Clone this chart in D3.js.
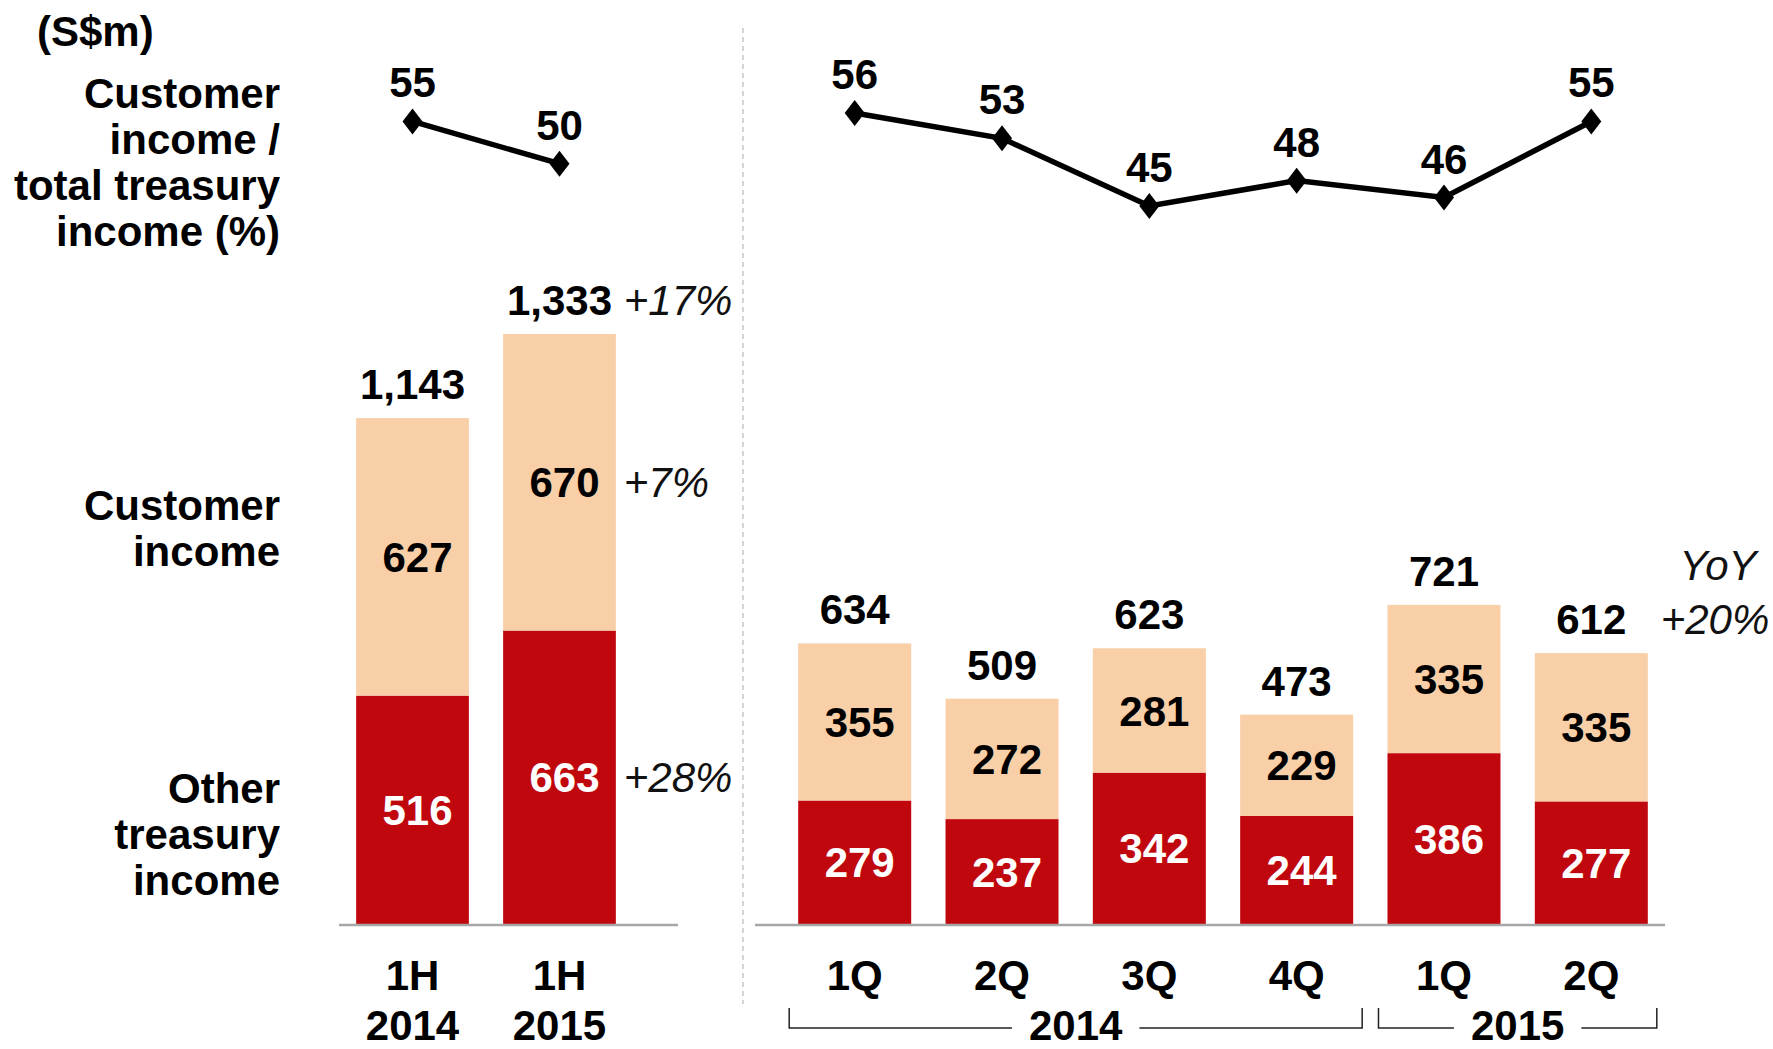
<!DOCTYPE html>
<html>
<head>
<meta charset="utf-8">
<script src="https://cdn.jsdelivr.net/npm/d3@7"></script>
<style>
  body { margin: 0; background: #fff; }
  svg { font-family: "Liberation Sans", Arial, sans-serif; }
</style>
</head>
<body>
<div id="chart"></div>
<script>
// Half-year data
const halfCats = ["1H 2014", "1H 2015"];
const halfOther = [516, 663];
const halfCustomer = [627, 670];
const halfTotal = [1143, 1333];
const halfRatio = [55, 50];
const halfGrowth = ["+17%", "+7%", "+28%"]; // total, customer, other

// Quarterly data
const qtrKeys = ["1Q 2014", "2Q 2014", "3Q 2014", "4Q 2014", "1Q 2015", "2Q 2015"];
const qtrLabels = ["1Q", "2Q", "3Q", "4Q", "1Q", "2Q"];
const qtrOther = [279, 237, 342, 244, 386, 277];
const qtrCustomer = [355, 272, 281, 229, 335, 335];
const qtrTotal = [634, 509, 623, 473, 721, 612];
const qtrRatio = [56, 53, 45, 48, 46, 55];
const yearGroups = [
  { year: "2014", from: "1Q 2014", to: "4Q 2014" },
  { year: "2015", from: "1Q 2015", to: "2Q 2015" }
];
const yoyText = ["YoY", "+20%"];

const RED = "#c0070d";
const PEACH = "#f9cfa7";
const FS = 42;

const width = 1773, height = 1049;
const svg = d3.select("#chart").append("svg")
  .attr("width", width)
  .attr("height", height);

const y = d3.scaleLinear().domain([0, 1333]).range([924, 334]);
const r = d3.scaleLinear().domain([45, 56]).range([206, 113]);

const xL = d3.scaleBand().domain(halfCats).range([339, 633])
  .paddingInner(0.233).paddingOuter(0.1167);
const xR = d3.scaleBand().domain(qtrKeys).range([781, 1665])
  .paddingInner(0.233).paddingOuter(0.1167);

const fmt = d3.format(",");

// divider between the two panels
svg.append("line")
  .attr("x1", 743).attr("x2", 743)
  .attr("y1", 28).attr("y2", 1004)
  .attr("stroke", "#c8c8c8")
  .attr("stroke-width", 1.5)
  .attr("stroke-dasharray", "5,4");

function drawPanel(x, keys, other, customer, total, ratio) {
  const g = svg.append("g");
  const bw = x.bandwidth();

  keys.forEach((k, i) => {
    const x0 = x(k);
    // other treasury income (bottom)
    g.append("rect")
      .attr("x", x0).attr("y", y(other[i]))
      .attr("width", bw).attr("height", y(0) - y(other[i]))
      .attr("fill", RED);
    // customer income (top)
    g.append("rect")
      .attr("x", x0).attr("y", y(other[i] + customer[i]))
      .attr("width", bw).attr("height", y(other[i]) - y(other[i] + customer[i]))
      .attr("fill", PEACH);

    g.append("text")
      .attr("x", x0 + bw / 2 + 5)
      .attr("y", (y(0) + y(other[i])) / 2)
      .attr("dy", "0.36em")
      .attr("text-anchor", "middle")
      .attr("font-size", FS).attr("font-weight", "bold")
      .attr("fill", "#fff")
      .text(other[i]);
    g.append("text")
      .attr("x", x0 + bw / 2 + 5)
      .attr("y", (y(other[i]) + y(other[i] + customer[i])) / 2)
      .attr("dy", "0.36em")
      .attr("text-anchor", "middle")
      .attr("font-size", FS).attr("font-weight", "bold")
      .attr("fill", "#000")
      .text(customer[i]);
    g.append("text")
      .attr("x", x0 + bw / 2)
      .attr("y", y(total[i]) - 19)
      .attr("text-anchor", "middle")
      .attr("font-size", FS).attr("font-weight", "bold")
      .attr("fill", "#000")
      .text(fmt(total[i]));
  });

  // ratio line
  const pts = keys.map((k, i) => [x(k) + bw / 2, r(ratio[i])]);
  g.append("path")
    .attr("d", d3.line()(pts))
    .attr("fill", "none")
    .attr("stroke", "#000")
    .attr("stroke-width", 5.5);
  g.selectAll(null).data(pts).enter().append("path")
    .attr("transform", d => `translate(${d[0]},${d[1]})`)
    .attr("d", "M0,-13L10,0L0,13L-10,0Z")
    .attr("fill", "#000");
  g.selectAll(null).data(pts).enter().append("text")
    .attr("x", d => d[0])
    .attr("y", d => d[1] - 24)
    .attr("text-anchor", "middle")
    .attr("font-size", FS).attr("font-weight", "bold")
    .text((d, i) => ratio[i]);
  return g;
}

drawPanel(xL, halfCats, halfOther, halfCustomer, halfTotal, halfRatio);
drawPanel(xR, qtrKeys, qtrOther, qtrCustomer, qtrTotal, qtrRatio);

// baselines
svg.append("line").attr("x1", 339).attr("x2", 678)
  .attr("y1", y(0) + 1).attr("y2", y(0) + 1)
  .attr("stroke", "#a6a6a6").attr("stroke-width", 2.5);
svg.append("line").attr("x1", 755).attr("x2", 1665)
  .attr("y1", y(0) + 1).attr("y2", y(0) + 1)
  .attr("stroke", "#a6a6a6").attr("stroke-width", 2.5);

// half-year category labels (two lines)
halfCats.forEach(c => {
  const parts = c.split(" ");
  const t = svg.append("text")
    .attr("text-anchor", "middle")
    .attr("font-size", FS).attr("font-weight", "bold");
  parts.forEach((p, j) => {
    t.append("tspan")
      .attr("x", xL(c) + xL.bandwidth() / 2)
      .attr("y", 975 + j * 50)
      .attr("dy", "0.36em")
      .text(p);
  });
});

// quarter labels via axis
const axR = svg.append("g")
  .attr("transform", `translate(0,${y(0)})`)
  .call(d3.axisBottom(xR).tickSize(0).tickPadding(36.5)
    .tickFormat((d, i) => qtrLabels[i]));
axR.select(".domain").remove();
axR.selectAll("text")
  .attr("font-size", FS).attr("font-weight", "bold")
  .attr("font-family", "'Liberation Sans', Arial, sans-serif")
  .attr("fill", "#000");

// year brackets
yearGroups.forEach(gp => {
  const xa = xR(gp.from) - 9;
  const xb = xR(gp.to) + xR.bandwidth() + 9;
  const xm = (xa + xb) / 2;
  const yl = 1028, yt = 1008;
  const label = svg.append("text")
    .attr("x", xm).attr("y", 1025).attr("dy", "0.36em")
    .attr("text-anchor", "middle")
    .attr("font-size", FS).attr("font-weight", "bold")
    .text(gp.year);
  const half = label.node().getComputedTextLength() / 2 + 17;
  svg.append("path")
    .attr("d", `M${xa},${yt}V${yl}H${xm - half}M${xm + half},${yl}H${xb}V${yt}`)
    .attr("fill", "none")
    .attr("stroke", "#222")
    .attr("stroke-width", 1.5);
});

// growth annotations (left panel)
const gx = xL(halfCats[1]) + xL.bandwidth() + 8;
const growthY = [
  y(halfTotal[1]) - 19,
  (y(halfOther[1]) + y(halfTotal[1])) / 2,
  (y(0) + y(halfOther[1])) / 2
];
halfGrowth.forEach((s, i) => {
  svg.append("text")
    .attr("x", gx)
    .attr("y", growthY[i])
    .attr("dy", i === 0 ? 0 : "0.36em")
    .attr("font-size", FS).attr("font-style", "italic")
    .attr("fill", "#111")
    .text(s);
});

// YoY annotation (right panel)
const yoyX = 1715;
svg.append("text")
  .attr("x", yoyX + 3).attr("y", y(qtrTotal[5]) - 19 - 54)
  .attr("text-anchor", "middle")
  .attr("font-size", FS).attr("font-style", "italic")
  .attr("fill", "#111")
  .text(yoyText[0]);
svg.append("text")
  .attr("x", yoyX).attr("y", y(qtrTotal[5]) - 19)
  .attr("text-anchor", "middle")
  .attr("font-size", FS).attr("font-style", "italic")
  .attr("fill", "#111")
  .text(yoyText[1]);

// left-side series labels
function block(lines, cy) {
  const t = svg.append("text")
    .attr("text-anchor", "end")
    .attr("font-size", FS).attr("font-weight", "bold");
  const start = cy - (lines.length - 1) * 46 / 2;
  lines.forEach((l, j) => {
    t.append("tspan")
      .attr("x", 280).attr("y", start + j * 46)
      .attr("dy", "0.36em")
      .text(l);
  });
}
block(["Customer", "income /", "total treasury", "income (%)"], 162);
block(["Customer", "income"], 528);
block(["Other", "treasury", "income"], 834);

svg.append("text")
  .attr("x", 37).attr("y", 31).attr("dy", "0.36em")
  .attr("font-size", FS).attr("font-weight", "bold")
  .text("(S$m)");
</script>
</body>
</html>
